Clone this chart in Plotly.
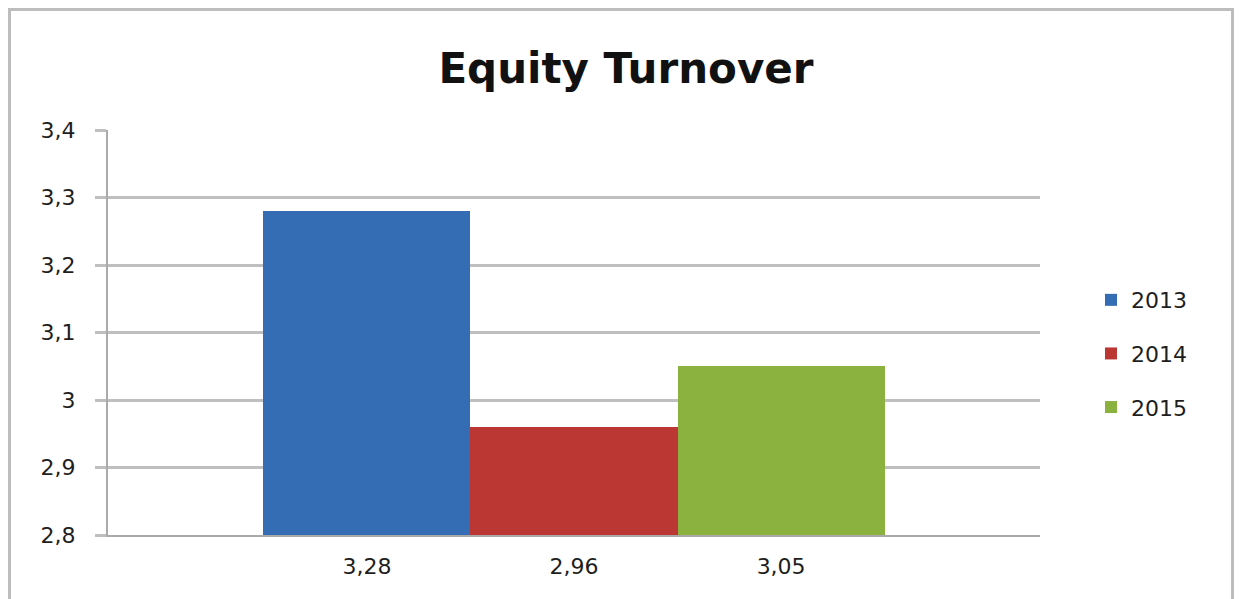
import plotly.graph_objects as go

# Data
categories = ["3,28", "2,96", "3,05"]
series_names = ["2013", "2014", "2015"]
values = [3.28, 2.96, 3.05]
colors = ["#356DB5", "#BB3734", "#8BB23E"]
y_ticks = [2.8, 2.9, 3.0, 3.1, 3.2, 3.3, 3.4]

fig = go.Figure()
for name, cat, val, col in zip(series_names, categories, values, colors):
    fig.add_trace(go.Bar(
        x=[cat], y=[val], name=name, legendgroup=name,
        marker=dict(color=col, line=dict(width=0)),
        width=1,
    ))

fig.update_layout(
    width=1234, height=591,
    margin=dict(l=100, r=202, t=122, b=64),
    paper_bgcolor="white", plot_bgcolor="white",
    separators=", ",
    barmode="relative", bargap=0,
    font=dict(family="DejaVu Sans", size=22, color="#1E1E1E"),
    title=dict(text="<b>Equity Turnover</b>", x=0.5008, y=0.898,
               xref="container", yref="container",
               xanchor="center", yanchor="middle",
               font=dict(family="DejaVu Sans", size=42, color="#111111")),
    showlegend=True,
    legend=dict(x=1.0547, y=0.632, xanchor="left", yanchor="top",
                traceorder="grouped", tracegroupgap=22,
                font=dict(family="DejaVu Sans", size=22, color="#1E1E1E"),
                bgcolor="rgba(0,0,0,0)"),
    xaxis=dict(type="category", range=[-1.25, 3.25], showgrid=False,
               showline=True, linecolor="#AAAAAA", linewidth=2,
               ticks="", ticklabelstandoff=11, zeroline=False),
    yaxis=dict(range=[2.8, 3.4], tickvals=y_ticks, showgrid=True,
               gridcolor="#BFBFBF", gridwidth=2.5, showline=True,
               linecolor="#AAAAAA", linewidth=2, ticks="outside",
               ticklen=11, tickwidth=2.5, tickcolor="#BFBFBF",
               ticklabelstandoff=15, zeroline=False),
    shapes=[dict(type="rect", xref="paper", yref="paper",
                 x0=-0.1057, x1=1.2066, y0=-0.2, y1=1.2975,
                 line=dict(color="#BDBDBD", width=3), layer="below")],
)

fig.write_html("out.html")
